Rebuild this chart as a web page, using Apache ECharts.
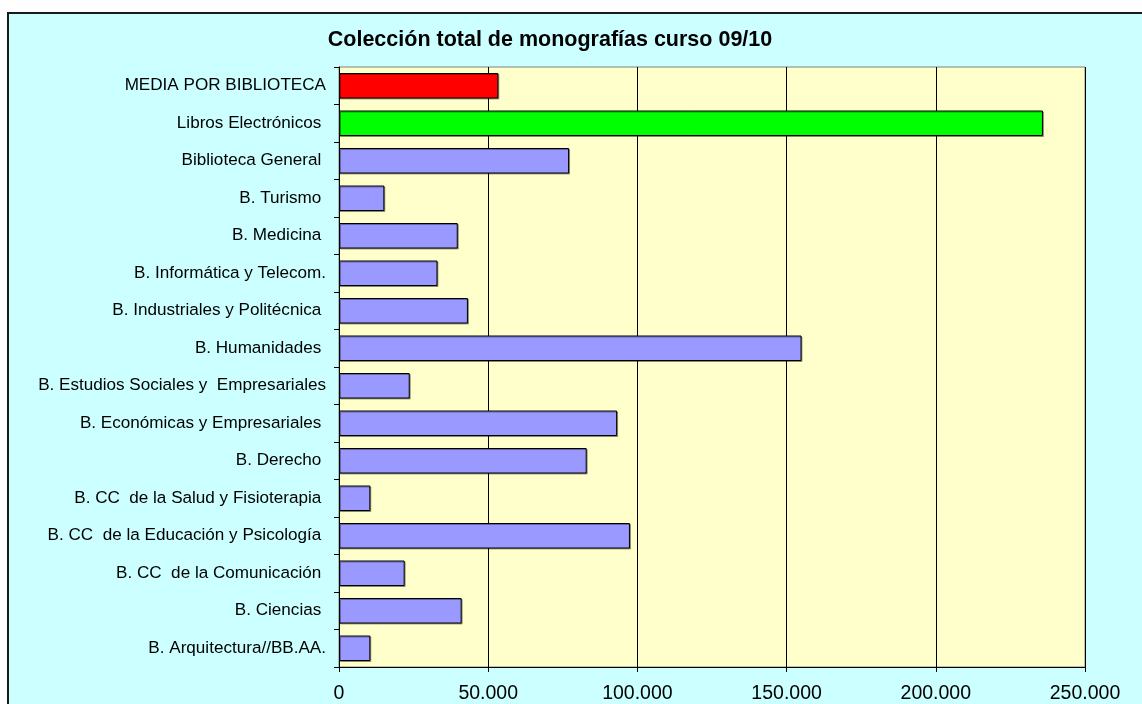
<!DOCTYPE html>
<html>
<head>
<meta charset="utf-8">
<script src="https://cdn.jsdelivr.net/npm/echarts@6/dist/echarts.min.js"></script>
<style>
  html, body { margin: 0; padding: 0; background: #ffffff; overflow: hidden; }
  #frame {
    position: absolute; left: 7px; top: 12px; width: 1200px; height: 760px;
    background: #ccffff; border: 2px solid #1a1a1a; box-sizing: border-box;
  }
  #chart { position: absolute; left: 0; top: 0; width: 1142px; height: 704px; }
</style>
</head>
<body>
<div id="frame"></div>
<div id="chart"></div>
<script>
// categorias de arriba a abajo (con el espacio final como en la hoja original)
const categories = [
  "MEDIA POR BIBLIOTECA",
  "Libros Electrónicos ",
  "Biblioteca General ",
  "B. Turismo ",
  "B. Medicina ",
  "B. Informática y Telecom.",
  "B. Industriales y Politécnica ",
  "B. Humanidades ",
  "B. Estudios Sociales y  Empresariales",
  "B. Económicas y Empresariales ",
  "B. Derecho ",
  "B. CC  de la Salud y Fisioterapia ",
  "B. CC  de la Educación y Psicología ",
  "B. CC  de la Comunicación ",
  "B. Ciencias ",
  "B. Arquitectura//BB.AA."
];
const values = [
  53400, 235900, 77100, 15200, 39800, 33000, 43200, 155000,
  23700, 93200, 83000, 10500, 97500, 22000, 41100, 10500
];
const xTicks = [0, 50000, 100000, 150000, 200000, 250000];

const specialColors = { 0: "#ff0000", 1: "#00ff00" };

document.addEventListener("DOMContentLoaded", function () {
  const chart = echarts.init(document.getElementById("chart"));

  const seriesData = values.map(function (v, i) {
    return { value: v, itemStyle: { color: specialColors[i] || "#9999ff" } };
  });

  const option = {
    animation: false,
    backgroundColor: "transparent",
    title: {
      text: "Colección total de monografías curso 09/10",
      left: 545,
      top: 24,
      textAlign: "center",
      textStyle: { fontFamily: "Liberation Sans, Arial", fontSize: 21.5, fontWeight: "bold", color: "#000" }
    },
    grid: {
      left: 339, right: 57, top: 67, bottom: 37,
      show: true, backgroundColor: "#ffffcc", borderColor: "#808080", borderWidth: 1
    },
    xAxis: {
      type: "value",
      min: xTicks[0],
      max: xTicks[xTicks.length - 1],
      interval: 50000,
      axisLine: { show: true, lineStyle: { color: "#000", width: 1 } },
      axisTick: { show: true, length: 5, lineStyle: { color: "#000" } },
      splitLine: { show: true, lineStyle: { color: "#000", width: 1 } },
      axisLabel: {
        margin: 17,
        fontFamily: "Liberation Sans, Arial",
        fontSize: 19.5,
        color: "#000",
        formatter: function (v) {
          return v.toString().replace(/\B(?=(\d{3})+(?!\d))/g, ".");
        }
      }
    },
    yAxis: {
      type: "category",
      data: categories,
      inverse: true,
      axisLine: { show: true, lineStyle: { color: "#000", width: 1 } },
      axisTick: { show: true, length: 5, lineStyle: { color: "#000" } },
      axisLabel: {
        margin: 13,
        fontFamily: "Liberation Sans, Arial",
        fontSize: 17.1,
        color: "#000"
      }
    },
    series: [
      {
        type: "bar",
        data: seriesData,
        barCategoryGap: "32%",
        itemStyle: {
          borderColor: "#000",
          borderWidth: 1,
          shadowColor: "rgba(0,0,0,0.35)",
          shadowOffsetX: 1,
          shadowOffsetY: 1,
          shadowBlur: 0
        }
      }
    ]
  };

  chart.setOption(option);
  window.addEventListener("resize", function () {
    chart.resize();
  });
});
</script>
</body>
</html>
